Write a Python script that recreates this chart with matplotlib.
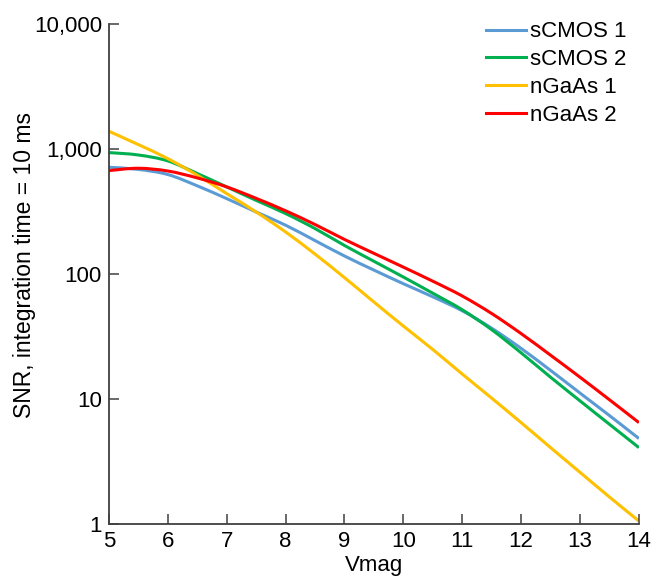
import numpy as np
import matplotlib.pyplot as plt
from matplotlib.path import Path
from matplotlib.patches import PathPatch
from matplotlib.lines import Line2D
from matplotlib.ticker import FixedLocator, FuncFormatter

plt.rcParams['font.family'] = ['Liberation Sans', 'DejaVu Sans']

vmag = [5, 5.5, 6, 6.5, 7, 7.5, 8, 8.5, 9, 9.5, 10, 10.5, 11, 11.5, 12, 12.5, 13, 13.5, 14]

scmos1 = [718, 690, 628, 510, 403, 315, 247, 186, 140, 108, 84, 66, 51, 37, 25.5, 17, 11.2, 7.4, 4.85]
scmos2 = [941, 900, 807, 640, 500, 390, 306, 232, 170, 127, 95, 70.5, 52, 36, 23.5, 15, 9.7, 6.3, 4.1]
ngaas1 = [1393, 1090, 842, 620, 442, 315, 218, 145, 94, 60, 38.5, 25, 15.9, 10.2, 6.5, 4.1, 2.6, 1.65, 1.06]
ngaas2 = [675, 705, 670, 590, 500, 405, 322, 250, 190, 147, 114, 88, 67, 48.5, 33.5, 22.5, 15, 9.9, 6.5]

labels = ['sCMOS 1', 'sCMOS 2', 'nGaAs 1', 'nGaAs 2']
colors = ['#5B9BD5', '#00B050', '#FFC000', '#FF0000']


def smooth_path(x, y):
	# excel-style smoothed line: catmull-rom segments as cubic beziers, built in log space
	x = np.asarray(x, float)
	ly = np.log10(np.asarray(y, float))
	verts = [(x[0], ly[0])]
	codes = [Path.MOVETO]
	n = len(x)
	for i in range(n - 1):
		p0 = (x[max(i - 1, 0)], ly[max(i - 1, 0)])
		p1 = (x[i], ly[i])
		p2 = (x[i + 1], ly[i + 1])
		p3 = (x[min(i + 2, n - 1)], ly[min(i + 2, n - 1)])
		c1 = (p1[0] + (p2[0] - p0[0]) / 6, p1[1] + (p2[1] - p0[1]) / 6)
		c2 = (p2[0] - (p3[0] - p1[0]) / 6, p2[1] - (p3[1] - p1[1]) / 6)
		verts += [c1, c2, p2]
		codes += [Path.CURVE4] * 3
	verts = [(a, 10 ** b) for a, b in verts]
	return Path(verts, codes)


fig = plt.figure(figsize=(6.52, 5.78), dpi=100)
ax = fig.add_axes([0.167, 0.093, 0.813, 0.865])

handles = []
for y, lab, c in zip([scmos1, scmos2, ngaas1, ngaas2], labels, colors):
	ax.add_patch(PathPatch(smooth_path(vmag, y), fill=False, edgecolor=c, lw=2.2, capstyle='butt'))
	handles.append(Line2D([], [], color=c, lw=2.2, label=lab))

ax.set_yscale('log')
ax.set_xlim(5, 14)
ax.set_ylim(1, 10000)
ax.xaxis.set_major_locator(FixedLocator(range(5, 15)))
ax.yaxis.set_major_locator(FixedLocator([1, 10, 100, 1000, 10000]))
ax.yaxis.set_minor_locator(FixedLocator([]))
ax.yaxis.set_major_formatter(FuncFormatter(lambda v, p: f'{int(v):,}'))

for s in ('top', 'right'):
	ax.spines[s].set_visible(False)
for s in ('left', 'bottom'):
	ax.spines[s].set_color('#404040')
	ax.spines[s].set_linewidth(1.3)

ax.tick_params(direction='in', length=7, width=1.1, color='#404040', labelsize=16, pad=5)
ax.set_xlabel('Vmag', fontsize=16, labelpad=2)
ax.set_ylabel('SNR, integration time = 10 ms', fontsize=16.5)
ax.yaxis.set_label_coords(-0.138, 0.519)

ax.legend(handles=handles, loc='upper right', bbox_to_anchor=(0.985, 0.99), bbox_transform=fig.transFigure,
	frameon=False, fontsize=16, handlelength=1.8, handletextpad=0.2, labelspacing=0.31,
	borderaxespad=0.3)

fig.savefig('out.png', dpi=100)
